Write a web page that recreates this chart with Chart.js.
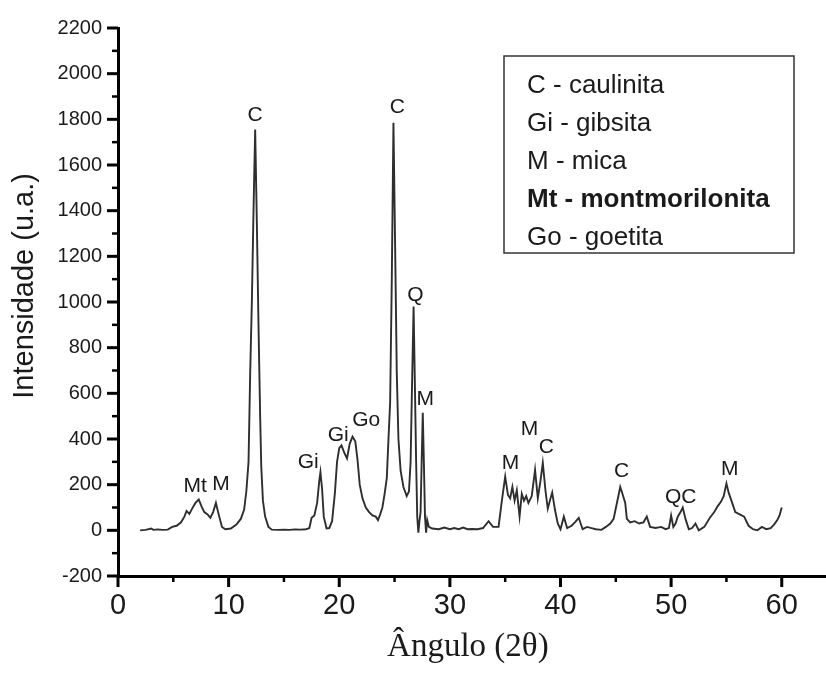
<!DOCTYPE html>
<html><head><meta charset="utf-8">
<script src="https://cdn.jsdelivr.net/npm/chart.js@4.4.1/dist/chart.umd.min.js"></script>
<style>html,body{margin:0;padding:0;background:#fff}canvas{display:block}</style>
</head><body>
<canvas id="c" width="826" height="675"></canvas>
<script>
// ---- data ----
const ANGLE = [2.0,2.5,3.0,3.2,3.6,4.0,4.5,4.9,5.3,5.7,6.0,6.2,6.45,6.7,7.0,7.3,7.55,7.8,8.1,8.35,8.6,8.85,9.1,9.4,9.7,10.2,10.7,11.1,11.4,11.6,11.8,11.95,12.1,12.25,12.4,12.55,12.7,12.85,12.95,13.1,13.3,13.6,13.9,14.5,15.0,15.5,16.0,16.5,17.0,17.3,17.5,17.75,18.0,18.2,18.3,18.45,18.6,18.85,19.1,19.35,19.6,19.8,20.0,20.2,20.45,20.7,20.95,21.2,21.45,21.65,21.85,22.1,22.4,22.7,23.0,23.3,23.5,23.7,23.9,24.1,24.3,24.45,24.6,24.75,24.9,25.05,25.2,25.35,25.55,25.8,26.1,26.3,26.45,26.55,26.72,26.85,26.95,27.05,27.15,27.25,27.35,27.45,27.55,27.65,27.75,27.85,27.95,28.1,28.4,29.0,29.5,30.0,30.4,30.8,31.2,31.6,32.0,32.5,33.0,33.5,33.9,34.4,34.7,35.0,35.25,35.45,35.65,35.85,36.05,36.3,36.5,36.7,36.9,37.1,37.4,37.7,37.95,38.2,38.4,38.65,38.85,39.1,39.25,39.5,39.75,40.0,40.3,40.6,41.0,41.3,41.65,42.0,42.4,42.8,43.2,43.7,44.1,44.5,44.8,45.1,45.4,45.6,45.85,46.0,46.3,46.7,47.1,47.5,47.8,48.1,48.6,49.1,49.5,49.8,50.0,50.2,50.4,50.6,50.85,51.05,51.3,51.6,51.9,52.2,52.5,53.0,53.5,53.9,54.2,54.5,54.75,55.0,55.2,55.45,55.8,56.2,56.6,57.0,57.4,57.8,58.2,58.6,59.0,59.3,59.6,59.8,60.0];
const INTENSITY = [0,2,8,2,4,2,3,15,20,35,60,85,72,95,120,135,105,80,70,55,80,120,70,15,5,8,25,50,90,170,300,690,1000,1400,1755,1350,900,500,280,130,60,15,3,2,3,2,4,3,5,10,55,65,120,220,255,180,60,8,10,40,160,300,360,372,340,315,380,410,390,310,200,140,100,80,65,60,45,70,100,160,230,400,560,1100,1785,1250,690,400,260,190,150,170,300,560,980,600,300,60,-10,40,80,300,515,300,60,-10,45,15,8,5,12,5,10,5,12,5,6,5,10,40,15,15,130,235,155,140,190,130,175,60,160,130,150,120,150,265,140,220,295,170,95,140,165,90,30,5,60,10,20,35,55,5,15,10,5,2,15,30,50,120,190,160,120,50,35,40,30,35,60,15,10,15,5,10,65,15,30,60,80,100,50,5,10,30,0,15,55,80,105,125,150,205,165,130,80,70,60,20,5,0,15,5,10,25,45,65,100];

const X_TICKS = [0,10,20,30,40,50,60];
const X_MINOR = [5,15,25,35,45,55];
const Y_TICKS = [-200,0,200,400,600,800,1000,1200,1400,1600,1800,2000,2200];
const Y_MINOR = [-100,100,300,500,700,900,1100,1300,1500,1700,1900,2100];

const PEAK_TEXT  = ['Mt','M','C','Gi','Gi','Go','C','Q','M','M','M','C','C','QC','M'];
const PEAK_ANGLE = [6.97,9.32,12.40,17.19,19.91,22.44,25.25,26.88,27.78,35.48,37.19,38.73,45.52,50.86,55.29];
const PEAK_LEVEL = [193,202,1820,300,416,481,1854,1030,575,296,442,365,258,146,266];

const LEGEND_LINES = ['C - caulinita','Gi - gibsita','M - mica','Mt - montmorilonita','Go - goetita'];
const LEGEND_BOLD  = [false,false,false,true,false];

const X_TITLE = 'Ângulo (2θ)';
const Y_TITLE = 'Intensidade (u.a.)';

// ---- plugins ----
const decorPlugin = {
  id: 'decor',
  afterDraw(chart) {
    const {ctx, chartArea: a, scales: {x, y}} = chart;
    ctx.save();
    ctx.strokeStyle = '#000';
    Y_TICKS.forEach(v => { const p = y.getPixelForValue(v); ctx.lineWidth = 3; ctx.beginPath(); ctx.moveTo(a.left, p); ctx.lineTo(a.left - 11, p); ctx.stroke(); });
    Y_MINOR.forEach(v => { const p = y.getPixelForValue(v); ctx.lineWidth = 2.5; ctx.beginPath(); ctx.moveTo(a.left, p); ctx.lineTo(a.left - 6, p); ctx.stroke(); });
    X_TICKS.forEach(v => { const p = x.getPixelForValue(v); ctx.lineWidth = 3; ctx.beginPath(); ctx.moveTo(p, a.bottom); ctx.lineTo(p, a.bottom + 11); ctx.stroke(); });
    X_MINOR.forEach(v => { const p = x.getPixelForValue(v); ctx.lineWidth = 2.5; ctx.beginPath(); ctx.moveTo(p, a.bottom); ctx.lineTo(p, a.bottom + 6); ctx.stroke(); });

    // peak labels
    ctx.fillStyle = '#1a1a1a';
    ctx.font = '21px "Liberation Sans", Arial, sans-serif';
    ctx.textAlign = 'center';
    ctx.textBaseline = 'middle';
    PEAK_TEXT.forEach((t, i) => {
      ctx.fillText(t, x.getPixelForValue(PEAK_ANGLE[i]), y.getPixelForValue(PEAK_LEVEL[i]));
    });

    // legend box
    const bx = a.left + 386, by = a.top + 28, bw = 290, bh = 197;
    ctx.lineWidth = 1.5;
    ctx.strokeStyle = '#333';
    ctx.strokeRect(bx, by, bw, bh);
    ctx.textAlign = 'left';
    ctx.textBaseline = 'alphabetic';
    LEGEND_LINES.forEach((t, i) => {
      ctx.font = (LEGEND_BOLD[i] ? 'bold ' : '') + '26px "Liberation Sans", Arial, sans-serif';
      ctx.fillText(t, bx + 23, by + 37 + i * 38);
    });
    ctx.restore();
  }
};

new Chart(document.getElementById('c'), {
  type: 'line',
  data: {
    datasets: [{
      data: ANGLE.map((a, i) => ({x: a, y: INTENSITY[i]})),
      borderColor: '#2e2e2e',
      borderWidth: 1.9,
      pointRadius: 0,
      tension: 0,
      fill: false
    }]
  },
  options: {
    responsive: false,
    animation: false,
    devicePixelRatio: 1,
    layout: {padding: {top: 15, right: 0, bottom: 0, left: 0}},
    plugins: {legend: {display: false}, tooltip: {enabled: false}},
    scales: {
      x: {
        type: 'linear', min: 0, max: 64,
        afterBuildTicks: s => { s.ticks = X_TICKS.map(v => ({value: v})); },
        afterFit: s => { s.height = 99; },
        grid: {drawOnChartArea: false, drawTicks: false, color: 'rgba(0,0,0,0)'},
        border: {display: true, color: '#000', width: 3},
        ticks: {color: '#1a1a1a', padding: 13, maxRotation: 0, callback: v => String(v),
                font: {family: '"Liberation Sans", Arial, sans-serif', size: 29}},
        title: {display: true, text: X_TITLE + ' ', color: '#1a1a1a', padding: {top: 0, bottom: 8},
                font: {family: '"Liberation Serif", "Times New Roman", serif', size: 33}}
      },
      y: {
        type: 'linear', min: -200, max: 2200,
        afterBuildTicks: s => { s.ticks = Y_TICKS.map(v => ({value: v})); },
        afterFit: s => { s.width = 118; },
        grid: {drawOnChartArea: false, drawTicks: false, color: 'rgba(0,0,0,0)'},
        border: {display: true, color: '#000', width: 3},
        ticks: {color: '#1a1a1a', padding: 16, callback: v => String(v),
                font: {family: '"Liberation Sans", Arial, sans-serif', size: 20}},
        title: {display: true, text: '    ' + Y_TITLE, color: '#1a1a1a', padding: {top: 8, bottom: 0},
                font: {family: '"Liberation Sans", Arial, sans-serif', size: 29}}
      }
    }
  },
  plugins: [decorPlugin]
});
</script>
</body></html>
